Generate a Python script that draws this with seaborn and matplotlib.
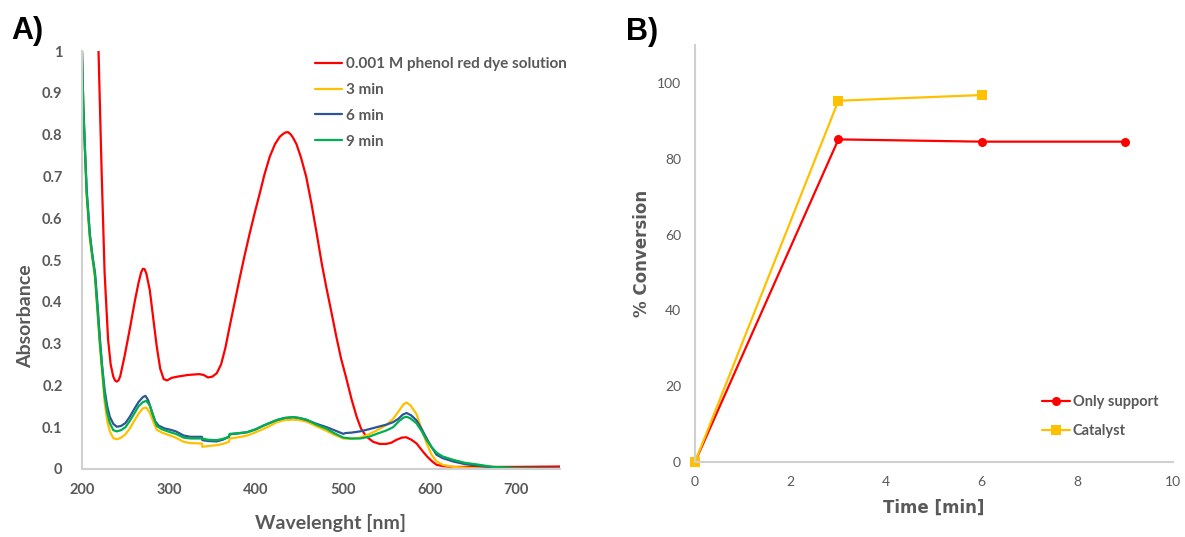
import matplotlib
matplotlib.use("Agg")
import matplotlib.pyplot as plt
import numpy as np
import pandas as pd
import seaborn as sns

# ---------------- Panel A data (UV-Vis spectra) ----------------
wl_dye = [216, 219, 222.6, 226, 230, 233, 236, 238, 240, 242, 244, 249, 255, 261, 265, 268,
          270, 272, 274, 278, 282, 286, 290, 294, 298, 303, 310, 322, 335, 340, 345, 350, 355,
          360, 365, 370, 376, 381.6, 387, 393, 399, 404.6, 410, 416, 422, 427.6, 431, 434,
          437, 440, 443, 446.8, 452, 458, 464, 470, 476, 481, 487, 492.7, 498, 504, 510, 516,
          521, 527, 535, 542.5, 550, 556, 562, 568, 573, 579, 585, 591, 597, 603, 608, 615,
          627, 650, 700, 750]
abs_dye = [1.15, 1.0, 0.71, 0.47, 0.31, 0.25, 0.221, 0.212, 0.209, 0.212, 0.222, 0.27, 0.335,
           0.404, 0.445, 0.47, 0.479, 0.478, 0.468, 0.428, 0.36, 0.293, 0.24, 0.215, 0.212,
           0.218, 0.221, 0.225, 0.227, 0.225, 0.219, 0.221, 0.229, 0.25, 0.29, 0.342, 0.402,
           0.458, 0.51, 0.564, 0.615, 0.66, 0.705, 0.747, 0.777, 0.795, 0.801, 0.805, 0.806,
           0.801, 0.792, 0.777, 0.745, 0.699, 0.635, 0.564, 0.49, 0.436, 0.375, 0.316, 0.265,
           0.218, 0.168, 0.125, 0.097, 0.078, 0.065, 0.06, 0.06, 0.063, 0.07, 0.075, 0.076,
           0.07, 0.061, 0.045, 0.03, 0.018, 0.01, 0.007, 0.005, 0.005, 0.005, 0.006]

wl_3min = [200, 201.5, 205.4, 209, 215, 220.7, 226, 229, 232, 236, 240, 245, 250, 255, 260,
           265, 270, 274, 278, 282, 286, 292, 301.5, 308, 317, 325, 338, 338.5, 345, 355, 362,
           369, 370, 380, 390, 400, 409, 417, 424, 433, 443, 450, 458.6, 470, 481.6, 490,
           500.8, 510, 520, 530, 539, 550, 558, 565, 570, 573.6, 578, 585, 590, 596.6, 602,
           608, 615, 627, 650, 673, 750]
abs_3min = [1.0, 0.86, 0.65, 0.55, 0.455, 0.29, 0.16, 0.115, 0.09, 0.074, 0.071, 0.075, 0.083,
            0.097, 0.115, 0.132, 0.145, 0.147, 0.135, 0.113, 0.094, 0.087, 0.08, 0.075, 0.065,
            0.062, 0.061, 0.053, 0.055, 0.057, 0.06, 0.065, 0.073, 0.076, 0.08, 0.088, 0.096,
            0.104, 0.112, 0.117, 0.118, 0.117, 0.113, 0.102, 0.091, 0.082, 0.073, 0.072,
            0.075, 0.083, 0.092, 0.105, 0.12, 0.14, 0.155, 0.159, 0.152, 0.131, 0.1, 0.061,
            0.035, 0.018, 0.01, 0.005, 0.002, 0.001, 0.0]

wl_6min = [200, 201.5, 203.5, 205.4, 209, 212, 215, 218, 220.7, 223, 226, 229, 232, 236, 240,
           245, 250, 255, 260, 265, 270, 273, 276, 280, 284, 288, 295, 301.5, 308, 317, 325,
           338, 338.5, 345, 355, 362, 369, 370, 380, 390, 400, 409, 417, 424, 433, 443, 450,
           458.6, 470, 481.6, 490, 500.8, 503, 510, 520, 530, 539, 550, 558, 564, 569, 573.6,
           579, 585, 591, 596.6, 602, 608, 615, 627, 640, 654, 673, 700, 750]
abs_6min = [1.0, 0.87, 0.76, 0.667, 0.564, 0.51, 0.469, 0.39, 0.31, 0.25, 0.19, 0.15, 0.125,
            0.108, 0.101, 0.103, 0.11, 0.125, 0.143, 0.16, 0.172, 0.175, 0.165, 0.14, 0.115,
            0.104, 0.097, 0.094, 0.09, 0.08, 0.077, 0.077, 0.069, 0.067, 0.066, 0.07, 0.077,
            0.083, 0.085, 0.088, 0.095, 0.104, 0.111, 0.117, 0.122, 0.124, 0.122, 0.117,
            0.108, 0.1, 0.093, 0.084, 0.086, 0.087, 0.09, 0.095, 0.1, 0.106, 0.112, 0.12,
            0.13, 0.134, 0.128, 0.116, 0.095, 0.073, 0.053, 0.034, 0.026, 0.018, 0.012,
            0.008, 0.004, 0.002, 0.001]

wl_9min = [200, 201.5, 205.4, 209, 215, 220.7, 226, 229, 232, 236, 240, 245, 250, 255, 260,
           265, 270, 274, 278, 282, 286, 292, 301.5, 308, 317, 325, 338, 345, 355, 362, 369,
           370, 380, 390, 400, 409, 417, 424, 433, 443, 450, 458.6, 470, 481.6, 490, 500.8,
           510, 520, 530, 539, 550, 558, 565, 570, 573.6, 578, 585, 591, 596.6, 602, 608,
           615, 627, 640, 654, 673, 700, 750]
abs_9min = [1.0, 0.865, 0.66, 0.557, 0.462, 0.3, 0.175, 0.135, 0.11, 0.093, 0.09, 0.093, 0.1,
            0.115, 0.132, 0.15, 0.16, 0.163, 0.152, 0.126, 0.103, 0.095, 0.088, 0.084, 0.075,
            0.073, 0.073, 0.07, 0.069, 0.072, 0.077, 0.084, 0.086, 0.088, 0.095, 0.104, 0.111,
            0.117, 0.122, 0.124, 0.122, 0.118, 0.106, 0.096, 0.086, 0.075, 0.073, 0.073,
            0.077, 0.084, 0.092, 0.1, 0.115, 0.123, 0.125, 0.121, 0.109, 0.09, 0.069, 0.053,
            0.039, 0.03, 0.022, 0.015, 0.011, 0.005, 0.002, 0.0]

spectra_names = ["0.001 M phenol red dye solution", "3 min", "6 min", "9 min"]
spectra_colors = ["#FF0000", "#FFC000", "#2F5597", "#00B050"]
a_xticks = [200, 300, 400, 500, 600, 700]
a_yticks = [0, 0.1, 0.2, 0.3, 0.4, 0.5, 0.6, 0.7, 0.8, 0.9, 1]
a_yticklabels = ["0", "0.1", "0.2", "0.3", "0.4", "0.5", "0.6", "0.7", "0.8", "0.9", "1"]

# ---------------- Panel B data (conversion) ----------------
time_support = [0, 3, 6, 9]
conv_support = [0, 85.1, 84.5, 84.5]
time_catalyst = [0, 3, 6]
conv_catalyst = [0, 95.3, 96.8]
conv_names = ["Only support", "Catalyst"]
conv_colors = ["#FF0000", "#FFC000"]
b_xticks = [0, 2, 4, 6, 8, 10]
b_yticks = [0, 20, 40, 60, 80, 100]

# ---------------- styling ----------------
sns.set_theme(style="white")
plt.rcParams["font.family"] = ["Lato", "DejaVu Sans"]
GRAY = "#595959"
SPINE = "#D0D0D0"

fig = plt.figure(figsize=(11.85, 5.37), dpi=100)
ax1 = fig.add_axes([82 / 1185, 1 - 469 / 537, (560 - 82) / 1185, (469 - 51) / 537])
ax2 = fig.add_axes([695 / 1185, 1 - 462 / 537, (1173 - 695) / 1185, (462 - 45) / 537])

# Panel A
frames = []
for name, wl, ab in zip(spectra_names,
                        [wl_dye, wl_3min, wl_6min, wl_9min],
                        [abs_dye, abs_3min, abs_6min, abs_9min]):
    frames.append(pd.DataFrame({"Wavelength": wl, "Absorbance": ab, "Series": name}))
spec_df = pd.concat(frames, ignore_index=True)
sns.lineplot(data=spec_df, x="Wavelength", y="Absorbance", hue="Series",
             hue_order=spectra_names, palette=dict(zip(spectra_names, spectra_colors)),
             sort=False, estimator=None, linewidth=1.6, ax=ax1)
ax1.set_xlim(200, 750)
ax1.set_ylim(0, 1)
ax1.set_xticks(a_xticks)
ax1.set_yticks(a_yticks)
ax1.set_yticklabels(a_yticklabels)
ax1.tick_params(axis="x", length=0, labelsize=10.5, labelcolor=GRAY, pad=10)
ax1.tick_params(axis="y", length=0, labelsize=10.5, labelcolor=GRAY, pad=14)
for lab in ax1.get_xticklabels() + ax1.get_yticklabels():
    lab.set_fontweight("bold")
ax1.set_xlabel("Wavelenght [nm]", fontsize=14, fontweight="bold", color=GRAY, labelpad=12)
ax1.set_ylabel("Absorbance", fontsize=14, fontweight="bold", color=GRAY, labelpad=6)
ax1.xaxis.label.set_x(0.52)
ax1.yaxis.label.set_y(0.366)
for s in ["top", "right"]:
    ax1.spines[s].set_visible(False)
for s in ["left", "bottom"]:
    ax1.spines[s].set_color(SPINE)
    ax1.spines[s].set_linewidth(1.5)
h, l = ax1.get_legend_handles_labels()
leg1 = ax1.legend(h, l, loc="upper left", bbox_to_anchor=(315 / 1185, 1 - 57 / 537),
                  bbox_transform=fig.transFigure, frameon=False, fontsize=11,
                  handlelength=1.8, handletextpad=0.25, labelspacing=0.78,
                  borderaxespad=0, borderpad=0)
for t in leg1.get_texts():
    t.set_color(GRAY)
    t.set_fontweight("bold")

# Panel B
conv_df = pd.concat([
    pd.DataFrame({"Time": time_support, "Conversion": conv_support, "Series": conv_names[0]}),
    pd.DataFrame({"Time": time_catalyst, "Conversion": conv_catalyst, "Series": conv_names[1]}),
], ignore_index=True)
sns.lineplot(data=conv_df, x="Time", y="Conversion", hue="Series", style="Series",
             hue_order=conv_names, style_order=conv_names,
             palette=dict(zip(conv_names, conv_colors)),
             markers={"Only support": "o", "Catalyst": "s"}, dashes=False,
             markersize=6.5, markeredgewidth=0, linewidth=1.6, ax=ax2)
for ln in ax2.get_lines():
    ln.set_clip_on(False)
ax2.set_xlim(0, 10)
ax2.set_ylim(0, 110)
ax2.set_xticks(b_xticks)
ax2.set_yticks(b_yticks)
ax2.tick_params(axis="both", length=0, labelsize=10, labelcolor=GRAY, pad=10)
ax2.set_xlabel("Time [min]", fontsize=12, fontweight="bold", color=GRAY,
               family="DejaVu Sans", labelpad=8)
ax2.set_ylabel("% Conversion", fontsize=12, fontweight="bold", color=GRAY,
               family="DejaVu Sans", labelpad=4)
for s in ["top", "right"]:
    ax2.spines[s].set_visible(False)
for s in ["left", "bottom"]:
    ax2.spines[s].set_color(SPINE)
    ax2.spines[s].set_linewidth(1.5)
h2, l2 = ax2.get_legend_handles_labels()
leg2 = ax2.legend(h2, l2, loc="upper left", bbox_to_anchor=(1042 / 1185, 1 - 395 / 537),
                  bbox_transform=fig.transFigure, frameon=False, fontsize=10.5,
                  handlelength=1.9, handletextpad=0.2, labelspacing=1.05,
                  borderaxespad=0, borderpad=0)
for t in leg2.get_texts():
    t.set_color(GRAY)
    t.set_fontweight("bold")

# Panel letters
fig.text(11 / 1185, 1 - 31 / 537, "A)", fontsize=22, fontweight="bold", color="black",
         family="Liberation Sans", va="center", ha="left")
fig.text(626 / 1185, 1 - 32 / 537, "B)", fontsize=22, fontweight="bold", color="black",
         family="Liberation Sans", va="center", ha="left")

fig.savefig("out.png", dpi=100)
